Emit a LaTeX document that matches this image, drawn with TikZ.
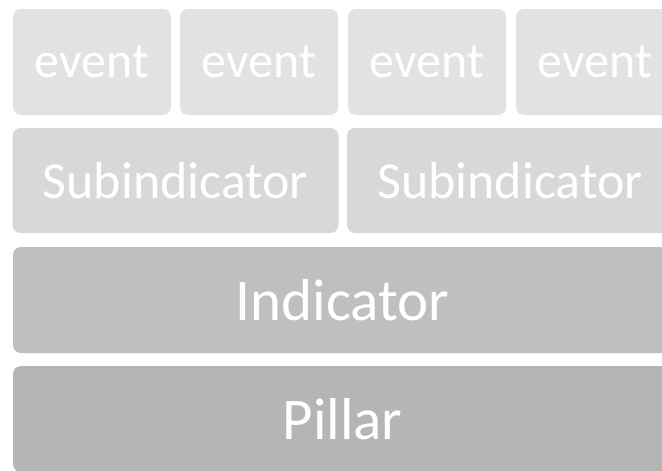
\documentclass[tikz,border=0pt]{standalone}
\usepackage{fontspec}
\setmainfont{Carlito}
\definecolor{evfill}{HTML}{E2E2E2}
\definecolor{subfill}{HTML}{D8D8D8}
\definecolor{indfill}{HTML}{BFBFBF}
\definecolor{pilfill}{HTML}{B5B5B5}
\tikzset{
  blk/.style={rectangle, rounded corners=8pt, inner sep=0pt, outer sep=0pt, text=white, anchor=center},
  evbox/.style={blk, fill=evfill, minimum width=158pt, minimum height=106pt, font=\fontsize{50}{60}\selectfont},
  subbox/.style={blk, fill=subfill, minimum width=326pt, minimum height=105pt, font=\fontsize{52}{62}\selectfont},
  bigbox/.style={blk, minimum width=659pt, minimum height=106pt, font=\fontsize{59}{70}\selectfont}
}
\begin{document}
\begin{tikzpicture}[x=1pt,y=-1pt]
\useasboundingbox (0,0) rectangle (662,471);
\clip (0,0) rectangle (662,471);
\fill[white] (0,0) rectangle (662,471);
\node[evbox] (e1) at (92,62) {event};
\node[evbox] (e2) at (259,62) {event};
\node[evbox] (e3) at (427,62) {event};
\node[evbox] (e4) at (595,62) {event};
\node[subbox] (s1) at (175.5,180.5) {Subindicator};
\node[subbox] (s2) at (510,180.5) {Subindicator};
\node[bigbox, fill=indfill] (ind) at (342.5,300) {Indicator};
\node[bigbox, fill=pilfill] (pil) at (342.5,419) {Pillar};
\end{tikzpicture}
\end{document}
